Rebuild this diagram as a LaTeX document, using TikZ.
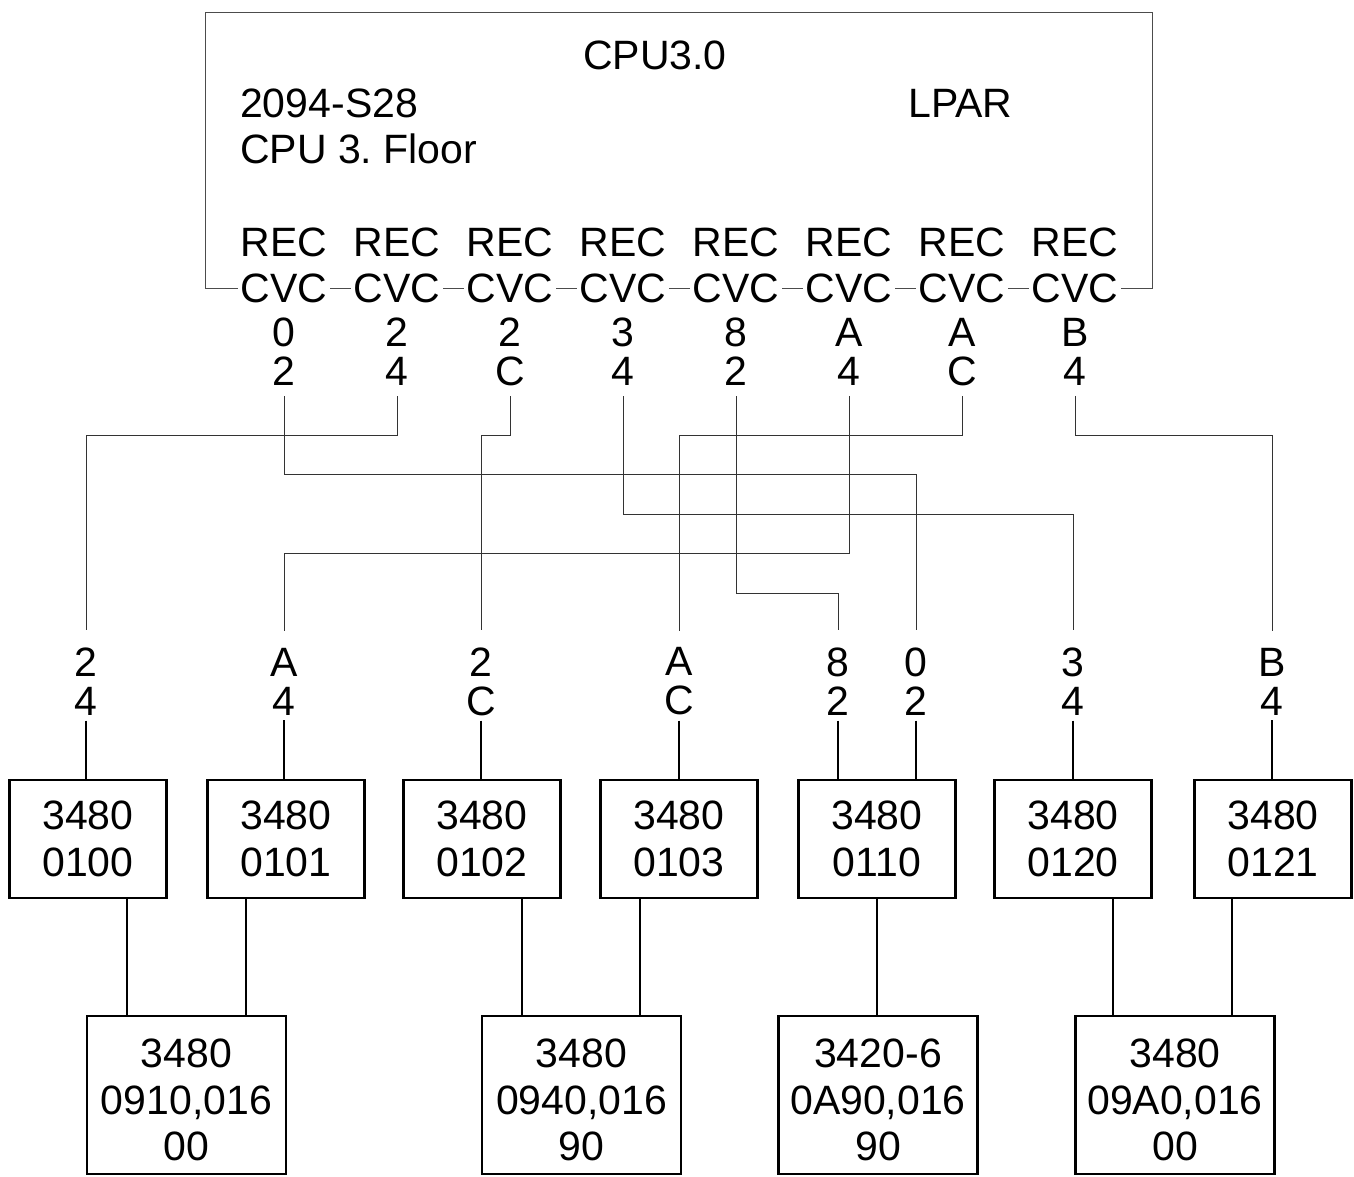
\documentclass[tikz,border=0pt]{standalone}
\usepackage{fontspec}
\setmainfont{Liberation Sans}
\usepackage{tikz}
\frenchspacing
\tikzset{
  txt/.style={inner sep=0pt,font=\fontsize{41}{47}\selectfont},
  port/.style={txt,fill=white,inner xsep=3pt},
  chan/.style={inner xsep=0pt,inner ysep=#1,align=center,font=\fontsize{41}{39}\selectfont},
  chan/.default=10pt,
  dev/.style={draw,line width=2.6pt,minimum width=157pt,minimum height=118pt,align=center,inner sep=0pt,font=\fontsize{41}{47}\selectfont},
  % cu: text sits a little below the middle of the box
  cutxt/.style={align=center,inner sep=0pt,font=\fontsize{41}{46.5}\selectfont},
  cu/.style={draw,line width=2.6pt,minimum width=199pt,minimum height=158pt,inner sep=0pt,
    label={[cutxt,yshift=-5pt]center:#1}},
  route/.style={line width=1pt,draw=black!80},
  wire/.style={line width=2pt},
}
\begin{document}
\begin{tikzpicture}[x=1pt,y=-1pt]
  \useasboundingbox (0,0) rectangle (1354,1176);
  % processor box
  \node[draw=black!70,line width=1pt,minimum width=947pt,minimum height=276pt] (cpu) at (678.5,150) {};
  \node[txt] (cpuname) at (655,55) {CPU3.0};
  \node[txt,anchor=west] (model) at (240,103) {2094-S28};
  \node[txt,anchor=west] (floor) at (240,149) {CPU 3. Floor};
  \node[txt,anchor=west] (lpar) at (908,103) {LPAR};
  \foreach \a/\b [count=\i from 0] in {0/2,2/4,2/C,3/4,8/2,A/4,A/C,B/4} {
    \node[txt] (rec\a\b) at (284+113*\i,242) {REC};
    \node[port] (cvc\a\b) at (284+113*\i,288) {CVC};
    \node[chan] (t\a\b) at (284+113*\i,352) {\a\\\b};
  }
  % channel labels at the devices
  \foreach \a/\b/\x in {2/4/86,A/4/284,2/C/481,A/C/679,8/2/838,0/2/916,3/4/1073,B/4/1272}
    \node[chan=5pt] (b\a\b) at (\x,681.5) {\a\\\b};
  \foreach \c/\y in {02/474,24/435,2C/435,34/514,82/593,A4/553,AC/435,B4/435}
    \draw[route,shorten >=12pt] (t\c.south) -- (t\c.south |- 0,\y) -| (b\c.north);
  % devices
  \foreach \n/\x in {100/88,101/286,102/482,103/679,110/877,120/1073,121/1273}
    \node[dev] (d\n) at (\x,839) {3480\\0\n};
  \foreach \c/\n in {24/100,A4/101,2C/102,AC/103,82/110,02/110,34/120,B4/121}
    \draw[wire] (b\c.south) -- (b\c.south |- d\n.north);
  % control units
  \node[cu={3480\\0910,016\\00}] (u0910) at (186.5,1095) {};
  \node[cu={3480\\0940,016\\90}] (u0940) at (581.5,1095) {};
  \node[cu={3420-6\\0A90,016\\90}] (u0A90) at (878,1095) {};
  \node[cu={3480\\09A0,016\\00}] (u09A0) at (1175,1095) {};
  \foreach \n/\s/\u in {100/39/0910,101/-40/0910,102/40/0940,103/-39/0940,110/0/0A90,120/40/09A0,121/-41/09A0} {
    \path (d\n.south) ++(\s,0) coordinate (k\n);
    \draw[wire] (k\n) -- (k\n |- u\u.north);
  }
\end{tikzpicture}
\end{document}
